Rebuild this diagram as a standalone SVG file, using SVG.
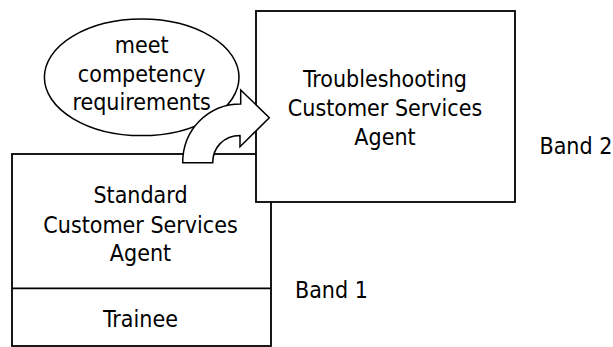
<svg xmlns="http://www.w3.org/2000/svg" width="613" height="347" viewBox="0 0 613 347">
  <style>
    .box { fill: #ffffff; stroke: #000000; stroke-width: 1.8; }
    .line { stroke: #000000; stroke-width: 1.8; fill: none; }
    .shape { fill: #ffffff; stroke: #000000; stroke-width: 1.5; stroke-linejoin: miter; }
    .lbl { font-family: "DejaVu Sans Condensed", "DejaVu Sans", sans-serif; font-stretch: condensed; font-size: 23px; fill: #000000; text-anchor: middle; }
    .side { font-family: "DejaVu Sans Condensed", "DejaVu Sans", sans-serif; font-stretch: condensed; font-size: 23px; fill: #000000; }
  </style>

  <!-- Band 1: standard agent with trainee level underneath -->
  <g id="band1-box">
    <rect class="box" x="12" y="154" width="259" height="192"/>
    <line class="line" x1="12" y1="288.3" x2="271" y2="288.3"/>
    <text class="lbl" x="140.5" y="202.5">Standard</text>
    <text class="lbl" x="140.5" y="232.5">Customer Services</text>
    <text class="lbl" x="140.5" y="261">Agent</text>
    <text class="lbl" x="140.5" y="326.5">Trainee</text>
  </g>

  <!-- Band 2: troubleshooting agent -->
  <g id="band2-box">
    <rect class="box" x="256" y="11" width="259" height="191"/>
    <text class="lbl" x="385" y="86.7">Troubleshooting</text>
    <text class="lbl" x="385" y="115.8">Customer Services</text>
    <text class="lbl" x="385" y="144.5">Agent</text>
  </g>

  <!-- Progression condition -->
  <g id="condition">
    <ellipse class="shape" cx="141.7" cy="77.3" rx="97.3" ry="58.3"/>
    <text class="lbl" x="141.7" y="53.3">meet</text>
    <text class="lbl" x="141.7" y="81.7">competency</text>
    <text class="lbl" x="141.7" y="110">requirements</text>
  </g>

  <!-- Curved block arrow from band 1 to band 2 -->
  <g id="connectors">
    <path class="shape" d="M182.7,162.7 L212.7,162.7 C212.7,147.5 224,135.5 240,135.5 L240,146.7 L269.3,117.7 L240.7,90 L240.7,104 C208,104 182.7,130 182.7,162.7 Z"/>
  </g>

  <!-- Band labels -->
  <g id="band-labels">
    <text class="side" x="539.5" y="154">Band 2</text>
    <text class="side" x="295" y="298.3">Band 1</text>
  </g>
</svg>
